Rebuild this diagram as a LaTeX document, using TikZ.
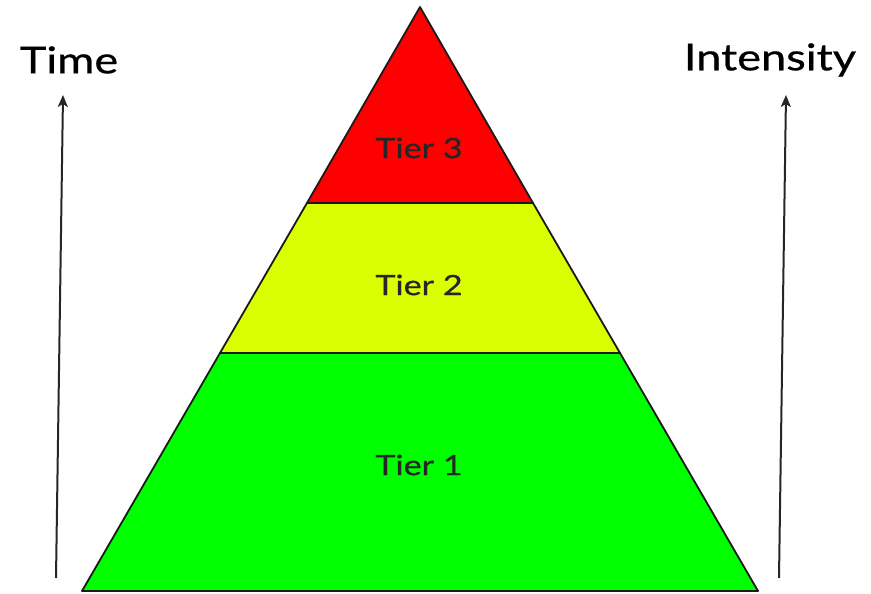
\documentclass[tikz,border=0pt]{standalone}
\usepackage{fontspec}
\setmainfont{Lato}[FakeStretch=1.22,FakeBold=0.6]
\usetikzlibrary{arrows.meta}
\definecolor{tierred}{HTML}{FF0000}
\definecolor{tieryellow}{HTML}{DAFF00}
\definecolor{tiergreen}{HTML}{00FF00}
\definecolor{edgegray}{HTML}{1A1A1A}
\begin{document}
\begin{tikzpicture}[x=1pt,y=-1pt,
  tier/.style={draw=edgegray,line width=1.8pt,line join=round},
  tierlabel/.style={font=\fontsize{28}{32}\selectfont,text=black!85},
  axislabel/.style={font=\fontsize{37}{42}\selectfont,text=black},
  axisarrow/.style={draw=black!85,line width=2pt,-{Stealth[length=12pt,width=10pt,inset=3pt]}}]
\useasboundingbox (0,0) rectangle (871,594);
% pyramid corners
\coordinate (apex) at (420,7);
\coordinate (bl) at (82,591);
\coordinate (br) at (758,591);
\coordinate (t3l) at (307,203);
\coordinate (t3r) at (533,203);
\coordinate (t2l) at (220,353);
\coordinate (t2r) at (620,353);
% tiers
\path[tier,fill=tiergreen] (t2l) -- (t2r) -- (br) -- (bl) -- cycle;
\path[tier,fill=tieryellow] (t3l) -- (t3r) -- (t2r) -- (t2l) -- cycle;
\path[tier,fill=tierred] (apex) -- (t3r) -- (t3l) -- cycle;
% labels
\node[tierlabel] (tier3) at (419,148) {Tier 3};
\node[tierlabel] (tier2) at (419,285) {Tier 2};
\node[tierlabel] (tier1) at (419,465) {Tier 1};
% axes
\coordinate (lb) at (56,578);
\coordinate (lt) at (63,95);
\coordinate (rb) at (779,578);
\coordinate (rt) at (786,95);
\draw[axisarrow] (lb) -- (lt);
\draw[axisarrow] (rb) -- (rt);
\node[axislabel] (time) at (69,60) {Time};
\node[axislabel] (intensity) at (770,60) {Intensity};
\end{tikzpicture}
\end{document}
